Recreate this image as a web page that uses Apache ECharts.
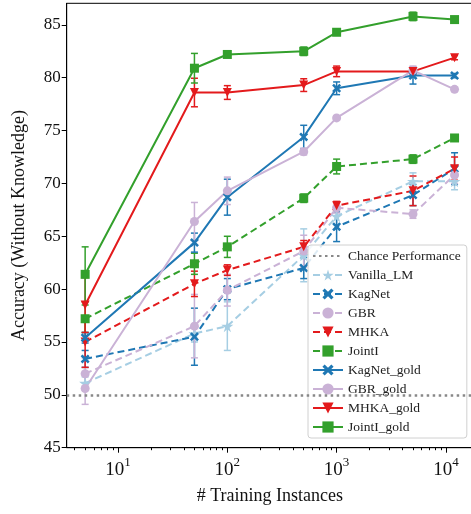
<!DOCTYPE html>
<html>
  <head>
    <meta charset="utf-8" />
    <title>Accuracy vs training instances</title>
    <script src="https://cdn.jsdelivr.net/npm/echarts@6/dist/echarts.min.js"></script>
    <style>
      html, body { margin: 0; padding: 0; background: #fff; }
      #main { width: 471px; height: 514px; }
    </style>
  </head>
  <body>
    <div id="main"></div>
    <script>
      // 训练样本数
      var xs = [5, 50, 100, 500, 1000, 5000, 12000];
      var chance = 50;
      var yTicks = [45, 50, 55, 60, 65, 70, 75, 80, 85];
      var xMajor = [10, 100, 1000, 10000];
      var xMinor = [4, 5, 6, 7, 8, 9, 20, 30, 40, 50, 60, 70, 80, 90,
        200, 300, 400, 500, 600, 700, 800, 900,
        2000, 3000, 4000, 5000, 6000, 7000, 8000, 9000];

      var names = ['Vanilla_LM', 'KagNet', 'GBR', 'MHKA', 'JointI',
        'KagNet_gold', 'GBR_gold', 'MHKA_gold', 'JointI_gold'];
      var vanilla = [51.1, 55.8, 56.5, 63.2, 66.9, 70.2, 70.2];
      var vanillaErr = [0.6, 0.8, 2.3, 2.5, 0.8, 0.8, 0.8];
      var kagnet = [53.4, 55.5, 60.0, 62.0, 65.9, 68.9, 71.4];
      var kagnetErr = [0.8, 2.7, 1.0, 1.0, 1.4, 1.0, 1.5];
      var gbr = [52.0, 56.5, 59.9, 63.6, 67.7, 67.1, 70.8];
      var gbrErr = [1.5, 3.0, 1.5, 1.5, 0.5, 0.4, 0.8];
      var mhka = [55.0, 60.5, 61.8, 64.0, 67.9, 69.3, 71.4];
      var mhkaErr = [2.4, 1.2, 0.5, 0.6, 0.4, 1.4, 1.1];
      var jointi = [57.2, 62.4, 64.0, 68.6, 71.6, 72.3, 74.3];
      var jointiErr = [1.3, 1.0, 1.0, 0.4, 0.7, 0.4, 0.2];
      var kagnetGold = [55.4, 64.4, 68.7, 74.4, 79.0, 80.2, 80.2];
      var kagnetGoldErr = [0.5, 0.9, 1.7, 1.1, 0.6, 0.8, 0.2];
      var gbrGold = [50.6, 66.4, 69.3, 73.0, 76.2, 80.7, 78.9];
      var gbrGoldErr = [1.5, 1.8, 1.3, 0.3, 0.2, 0.4, 0.2];
      var mhkaGold = [58.5, 78.6, 78.6, 79.3, 80.6, 80.6, 81.9];
      var mhkaGoldErr = [2.6, 1.35, 0.65, 0.6, 0.5, 0.3, 0.2];
      var jointiGold = [61.4, 80.9, 82.2, 82.5, 84.3, 85.8, 85.5];
      var jointiGoldErr = [2.6, 1.4, 0.2, 0.4, 0.2, 0.4, 0.2];

      var FONT = 'Liberation Serif';
      var STAR = 'path://M50,0L61,35L98,35L68,57L79,91L50,70L21,91L32,57L2,35L39,35Z';
      var XMARK = 'path://M0,2L2,0L5,3L8,0L10,2L7,5L10,8L8,10L5,7L2,10L0,8L3,5Z';

      var defs = [
        { vals: vanilla, err: vanillaErr, color: '#a6cee3', dash: true, symbol: STAR, size: 12 },
        { vals: kagnet, err: kagnetErr, color: '#1f78b4', dash: true, symbol: XMARK, size: 9 },
        { vals: gbr, err: gbrErr, color: '#cab2d6', dash: true, symbol: 'circle', size: 9 },
        { vals: mhka, err: mhkaErr, color: '#e31a1c', dash: true, symbol: 'triangle', size: 9, rot: 180 },
        { vals: jointi, err: jointiErr, color: '#33a02c', dash: true, symbol: 'rect', size: 9 },
        { vals: kagnetGold, err: kagnetGoldErr, color: '#1f78b4', dash: false, symbol: XMARK, size: 9 },
        { vals: gbrGold, err: gbrGoldErr, color: '#cab2d6', dash: false, symbol: 'circle', size: 9 },
        { vals: mhkaGold, err: mhkaGoldErr, color: '#e31a1c', dash: false, symbol: 'triangle', size: 9, rot: 180 },
        { vals: jointiGold, err: jointiGoldErr, color: '#33a02c', dash: false, symbol: 'rect', size: 9 }
      ];

      // 误差棒
      function errRender(color) {
        return function (params, api) {
          var x = api.value(0);
          var top = api.coord([x, api.value(2)]);
          var bot = api.coord([x, api.value(1)]);
          var w = 3.5;
          var st = { stroke: color, lineWidth: 1.5 };
          return {
            type: 'group',
            children: [
              { type: 'line', shape: { x1: top[0], y1: top[1], x2: bot[0], y2: bot[1] }, style: st },
              { type: 'line', shape: { x1: top[0] - w, y1: top[1], x2: top[0] + w, y2: top[1] }, style: st },
              { type: 'line', shape: { x1: bot[0] - w, y1: bot[1], x2: bot[0] + w, y2: bot[1] }, style: st }
            ]
          };
        };
      }

      var series = [{
        name: 'Chance Performance',
        type: 'line',
        data: [],
        symbol: 'none',
        showSymbol: false,
        lineStyle: { color: '#888', width: 2.5, type: [2.5, 3.5] },
        itemStyle: { color: 'rgba(0,0,0,0)' },
        markLine: {
          silent: true,
          symbol: 'none',
          label: { show: false },
          lineStyle: { color: '#888', width: 2.5, type: [2.5, 3.5] },
          data: [{ yAxis: chance }]
        }
      }];

      defs.forEach(function (d, i) {
        series.push({
          name: names[i] + '_err',
          type: 'custom',
          renderItem: errRender(d.color),
          encode: { x: 0, y: [1, 2] },
          data: xs.map(function (x, k) { return [x, d.vals[k] - d.err[k], d.vals[k] + d.err[k]]; }),
          silent: true
        });
        series.push({
          name: names[i],
          type: 'line',
          data: xs.map(function (x, k) { return [x, d.vals[k]]; }),
          symbol: d.symbol,
          symbolSize: d.size,
          symbolRotate: d.rot || 0,
          showAllSymbol: true,
          lineStyle: { color: d.color, width: 2, type: d.dash ? [7, 4] : 'solid' },
          itemStyle: { color: d.color, borderWidth: 0 }
        });
      });

      var myChart = echarts.init(document.getElementById('main'));
      var option = {
        backgroundColor: '#fff',
        animation: false,
        grid: {
          left: 66.7, right: -2, top: 3.3, bottom: 66.3,
          show: true, borderColor: '#000', borderWidth: 1,
          outerBoundsMode: 'none'
        },
        legend: {
          data: ['Chance Performance'].concat(names),
          orient: 'vertical',
          left: 308,
          top: 245,
          padding: [4, 6, 4, 4],
          itemGap: 5,
          itemWidth: 30,
          itemHeight: 14,
          backgroundColor: 'rgba(255,255,255,0.85)',
          borderColor: '#d0d0d0',
          borderWidth: 1,
          borderRadius: 3,
          textStyle: { fontFamily: FONT, fontSize: 13.5, color: '#222', lineHeight: 14 }
        },
        xAxis: [{
          type: 'log',
          logBase: 10,
          min: 3.39,
          max: 17700,
          name: '# Training Instances',
          nameLocation: 'middle',
          nameGap: 40,
          nameTextStyle: { fontFamily: FONT, fontSize: 18, color: '#111' },
          axisLine: { lineStyle: { color: '#000', width: 1 } },
          axisTick: { length: 5, customValues: xMajor, lineStyle: { color: '#000' } },
          splitLine: { show: false },
          axisLabel: {
            customValues: xMajor,
            margin: 8,
            formatter: function (v) {
              return '{b|10}{s|' + Math.round(Math.log(v) / Math.LN10) + '}';
            },
            rich: {
              b: { fontFamily: FONT, fontSize: 19, color: '#111', verticalAlign: 'bottom', lineHeight: 24 },
              s: { fontFamily: FONT, fontSize: 13, color: '#111', verticalAlign: 'top', lineHeight: 14 }
            }
          }
        }, {
          type: 'log',
          logBase: 10,
          min: 3.39,
          max: 17700,
          position: 'bottom',
          axisLine: { show: false },
          axisTick: { length: 2.5, customValues: xMinor, lineStyle: { color: '#000' } },
          axisLabel: { show: false },
          splitLine: { show: false }
        }],
        yAxis: {
          type: 'value',
          min: 45,
          max: 87.04,
          interval: 5,
          name: 'Accuracy (Without Knowledge)',
          nameLocation: 'middle',
          nameGap: 38,
          nameTextStyle: { fontFamily: FONT, fontSize: 18, color: '#111' },
          axisLine: { show: true, lineStyle: { color: '#000', width: 1 } },
          axisTick: { show: true, length: 5, customValues: yTicks, lineStyle: { color: '#000' } },
          splitLine: { show: false },
          axisLabel: {
            customValues: yTicks,
            margin: 6,
            fontFamily: FONT, fontSize: 17, color: '#111'
          }
        },
        series: series
      };
      myChart.setOption(option);
    </script>
  </body>
</html>
